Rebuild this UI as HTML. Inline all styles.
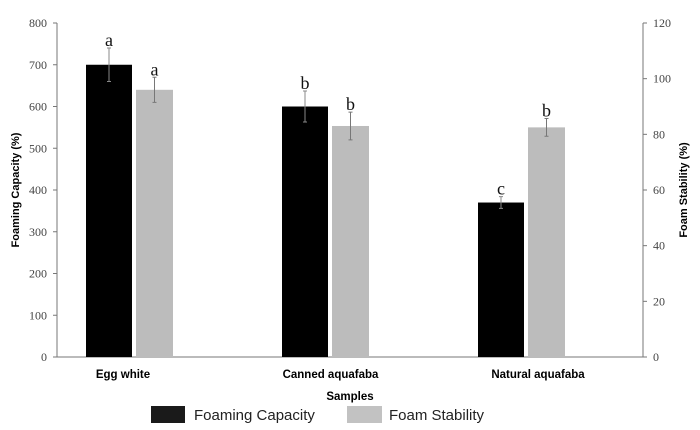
<!DOCTYPE html>
<html><head><meta charset="utf-8"><style>
body{margin:0;background:#fff;}
svg{display:block;font-family:"Liberation Sans",sans-serif;}
.tk{font-family:"Liberation Serif",serif;font-size:12px;fill:#444;}
</style></head><body>
<svg id="c" width="700" height="430"></svg>
<script>
const categories=["Egg white","Canned aquafaba","Natural aquafaba"];
const capacity=[700,600,370];
const capacityErr=[40,37,14];
const stability=[96,83,82.5];
const stabilityErr=[4.5,5,3.2];
const capLetters=["a","b","c"];
const stabLetters=["a","b","b"];
const leftTicks=[0,100,200,300,400,500,600,700,800];
const rightTicks=[0,20,40,60,80,100,120];
const NS="http://www.w3.org/2000/svg";
const svg=document.getElementById('c');
const x0=57,x1=643,yb=357,yt=23;
const yL=v=>yb-(v/800)*(yb-yt);
const yR=v=>yb-(v/120)*(yb-yt);
const gx=i=>109+i*196;
function el(t,a,txt){const e=document.createElementNS(NS,t);for(const k in a)e.setAttribute(k,a[k]);if(txt!==undefined)e.textContent=txt;svg.appendChild(e);return e;}
let e;
e=el('line',{x1:x0,y1:yt,x2:x0,y2:yb,stroke:'#777'});


e=el('line',{x1:x1,y1:yt,x2:x1,y2:yb,stroke:'#777'});


e=el('line',{x1:x0,y1:yb,x2:x1,y2:yb,stroke:'#777'});


leftTicks.forEach(v=>{
 el('line',{x1:x0-4,x2:x0,y1:yL(v),y2:yL(v),stroke:'#777'});
 e=el('text',{x:x0-10,y:yL(v)+4,'text-anchor':'end',class:'tk'},v);
 
 
});
rightTicks.forEach(v=>{
 el('line',{x1:x1,x2:x1+4,y1:yR(v),y2:yR(v),stroke:'#777'});
 e=el('text',{x:x1+10,y:yR(v)+4,'text-anchor':'start',class:'tk'},v);
 
 
});
categories.forEach((c,i)=>{
 const bx=gx(i)-23;
 e=el('rect',{x:bx,y:yL(capacity[i]),width:46,height:yb-yL(capacity[i]),fill:'#000'});
 
 
 const sx=gx(i)+27;
 e=el('rect',{x:sx,y:yR(stability[i]),width:37,height:yb-yR(stability[i]),fill:'#bcbcbc'});
 
 
 const cx=gx(i),sc=sx+18.5;
 const eu=yL(capacity[i]+capacityErr[i]),ed=yL(capacity[i]-capacityErr[i]);
 e=el('path',{d:`M${cx} ${eu}V${ed}M${cx-2} ${eu}H${cx+2}M${cx-2} ${ed}H${cx+2}`,stroke:'#888',fill:'none'});
 
 
 const su=yR(stability[i]+stabilityErr[i]),sd=yR(stability[i]-stabilityErr[i]);
 e=el('path',{d:`M${sc} ${su}V${sd}M${sc-2} ${su}H${sc+2}M${sc-2} ${sd}H${sc+2}`,stroke:'#777',fill:'none'});
 
 
 e=el('text',{x:cx,y:eu-2,'text-anchor':'middle','font-family':'Liberation Serif, serif','font-size':18,fill:'#111'},capLetters[i]);
 
 
 e=el('text',{x:sc,y:su-2,'text-anchor':'middle','font-family':'Liberation Serif, serif','font-size':18,fill:'#111'},stabLetters[i]);
 
 
 e=el('text',{x:gx(i)+14+i*11.5,y:378,'text-anchor':'middle','font-size':11.5,'font-weight':'bold'},c);
 
 
});
e=el('text',{x:350,y:400,'text-anchor':'middle','font-size':11.5,'font-weight':'bold'},'Samples');


e=el('text',{transform:'translate(19,190) rotate(-90)','text-anchor':'middle','font-size':11,'font-weight':'bold'},'Foaming Capacity (%)');


e=el('text',{transform:'translate(687,190) rotate(-90)','text-anchor':'middle','font-size':11,'font-weight':'bold'},'Foam Stability (%)');


e=el('rect',{x:151,y:406,width:34,height:17,fill:'#1a1a1a'});


e=el('text',{x:194,y:420,'font-size':15,fill:'#222'},'Foaming Capacity');


e=el('rect',{x:347,y:406,width:35,height:17,fill:'#c2c2c2'});


e=el('text',{x:389,y:420,'font-size':15,fill:'#222'},'Foam Stability');


</script>
</body></html>
